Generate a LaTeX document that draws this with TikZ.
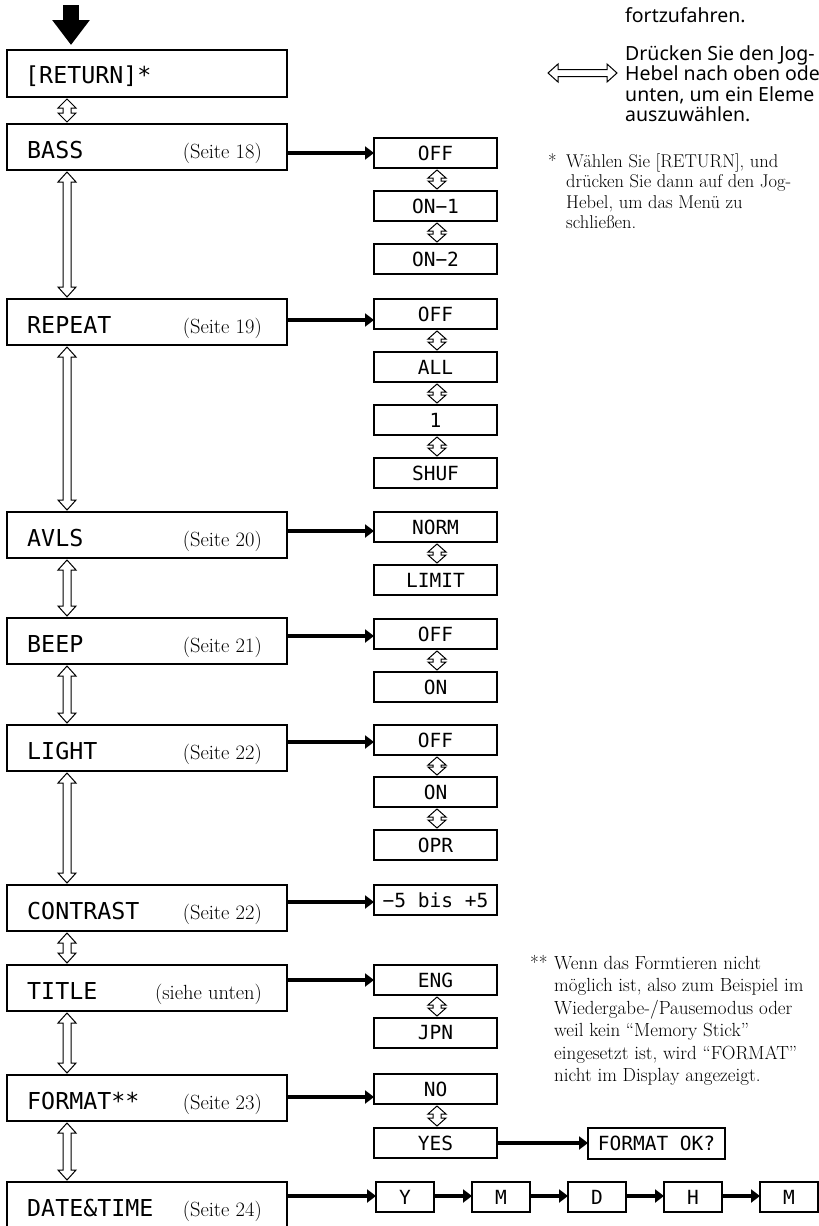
\documentclass[tikz,border=0pt]{standalone}
\usepackage{fontspec}
\newfontfamily\lcdfont{DejaVu Sans Mono}
\newfontfamily\notosans{Noto Sans}
\usetikzlibrary{arrows.meta,calc}

\tikzset{
  mbox/.style={draw, line width=1.2pt, minimum width=280pt, minimum height=46pt, inner sep=0pt, outer sep=0pt},
  obox/.style={draw, line width=1.2pt, minimum width=123pt, minimum height=30pt, inner sep=0pt, outer sep=0pt,
               font=\lcdfont\fontsize{19.5}{20}\selectfont},
  mlabel/.style={inner sep=0pt, anchor=base west, font=\lcdfont\fontsize{23.3}{24}\selectfont},
  plabel/.style={inner sep=0pt, anchor=base east, font=\fontsize{20.5}{22}\selectfont},
  harrow/.style={line width=4.5pt, -{Triangle[length=9pt,width=13pt]}},
  hollow/.style={draw, line width=1pt, fill=white, line join=miter},
  fnoteA/.style={inner sep=0pt, anchor=base west, font=\fontsize{18.5}{20}\selectfont},
  fnoteB/.style={inner sep=0pt, anchor=base west, font=\fontsize{19}{20}\selectfont},
  sansline/.style={inner sep=0pt, anchor=base west, font=\notosans\fontsize{19.5}{20}\selectfont},
}

% main menu box with label and page reference
\newcommand\mainbox[4]{%
  \node[mbox, anchor=north west] (#1) at (7,#2) {};
  \node[mlabel] (#1-l) at ([xshift=20pt,yshift=-34pt]#1.north west) {#3};
  \node[plabel] (#1-p) at ([xshift=-25pt,yshift=-34pt]#1.north east) {#4};}

% option box
\newcommand\optbox[4]{\node[obox, anchor=north west] (#1) at (#2,#3) {#4};}

% hollow vertical double arrow between two nodes: x, upper, lower, half head width, half shaft width, head length
\newcommand\dblv[6]{%
  \draw[hollow] let \p1=(#2.south), \p2=(#3.north) in
    (#1,\y1-2pt) -- (#1+#4,\y1-2pt-#6) -- (#1+#5,\y1-2pt-#6) -- (#1+#5,\y2+2pt+#6)
    -- (#1+#4,\y2+2pt+#6) -- (#1,\y2+2pt) -- (#1-#4,\y2+2pt+#6) -- (#1-#5,\y2+2pt+#6)
    -- (#1-#5,\y1-2pt-#6) -- (#1-#4,\y1-2pt-#6) -- cycle;}

\begin{document}
\begin{tikzpicture}[x=1pt,y=-1pt]
\useasboundingbox (0,0) rectangle (819,1226);

% ---------- main column ----------
\node[mbox, anchor=north west, minimum height=47pt] (ret) at (7,50) {};
\node[mlabel] (ret-l) at ([xshift=18pt,yshift=-33pt]ret.north west) {[RETURN]*};

\mainbox{bass}{124}{BASS}{(Seite 18)}
\mainbox{rep}{299}{REPEAT}{(Seite 19)}
\mainbox{avls}{512}{AVLS}{(Seite 20)}
\mainbox{beep}{618}{BEEP}{(Seite 21)}
\mainbox{light}{725}{LIGHT}{(Seite 22)}
\mainbox{contr}{885}{CONTRAST}{(Seite 22)}
\mainbox{title}{965}{TITLE}{(siehe unten)}
\mainbox{fmt}{1075}{FORMAT**}{(Seite 23)}
\mainbox{date}{1182}{DATE\&TIME}{(Seite 24)}

% big entry arrow
\coordinate (entry) at (71,5);
\draw[line width=16pt, -{Triangle[length=25pt,width=36pt]}] (entry) -- ([yshift=5pt]ret.north -| entry);

% double arrows of the main column
\dblv{67pt}{ret}{bass}{9pt}{4pt}{9pt}
\dblv{67pt}{bass}{rep}{9pt}{4pt}{10pt}
\dblv{67pt}{rep}{avls}{9pt}{4pt}{10pt}
\dblv{67pt}{avls}{beep}{9pt}{4pt}{10pt}
\dblv{67pt}{beep}{light}{9pt}{4pt}{10pt}
\dblv{67pt}{light}{contr}{9pt}{4pt}{10pt}
\dblv{67pt}{contr}{title}{9pt}{4pt}{10pt}
\dblv{67pt}{title}{fmt}{9pt}{4pt}{10pt}
\dblv{67pt}{fmt}{date}{9pt}{4pt}{10pt}

% ---------- option boxes ----------
\optbox{bOFF}{374}{138}{OFF}
\optbox{bON1}{374}{191}{ON−1}
\optbox{bON2}{374}{244}{ON−2}

\optbox{rOFF}{374}{299}{OFF}
\optbox{rALL}{374}{352}{ALL}
\optbox{rONE}{374}{405}{1}
\optbox{rSHUF}{374}{458}{SHUF}

\optbox{aNORM}{374}{512}{NORM}
\optbox{aLIMIT}{374}{565}{LIMIT}

\optbox{eOFF}{374}{619}{OFF}
\optbox{eON}{374}{672}{ON}

\optbox{lOFF}{374}{725}{OFF}
\optbox{lON}{374}{777}{ON}
\optbox{lOPR}{374}{830}{OPR}

\optbox{cRANGE}{374}{885}{−5 bis +5}

\optbox{tENG}{374}{965}{ENG}
\optbox{tJPN}{374}{1018}{JPN}

\optbox{fNO}{374}{1074}{NO}
\optbox{fYES}{374}{1128}{YES}
\node[obox, anchor=north west, minimum width=137pt, minimum height=31pt] (fOK) at (588,1128) {FORMAT OK?};

\node[obox, anchor=north west, minimum width=58pt] (dY) at (376,1182) {Y};
\node[obox, anchor=north west, minimum width=58pt] (dMo) at (472,1182) {M};
\node[obox, anchor=north west, minimum width=58pt] (dD) at (568,1182) {D};
\node[obox, anchor=north west, minimum width=58pt] (dH) at (664,1182) {H};
\node[obox, anchor=north west, minimum width=58pt] (dMi) at (760,1182) {M};

% small double arrows between options
\dblv{437pt}{bOFF}{bON1}{9pt}{4pt}{8pt}
\dblv{437pt}{bON1}{bON2}{9pt}{4pt}{8pt}
\dblv{437pt}{rOFF}{rALL}{9pt}{4pt}{8pt}
\dblv{437pt}{rALL}{rONE}{9pt}{4pt}{8pt}
\dblv{437pt}{rONE}{rSHUF}{9pt}{4pt}{8pt}
\dblv{437pt}{aNORM}{aLIMIT}{9pt}{4pt}{8pt}
\dblv{437pt}{eOFF}{eON}{9pt}{4pt}{8pt}
\dblv{437pt}{lOFF}{lON}{9pt}{4pt}{8pt}
\dblv{437pt}{lON}{lOPR}{9pt}{4pt}{8pt}
\dblv{437pt}{tENG}{tJPN}{9pt}{4pt}{8pt}
\dblv{437pt}{fNO}{fYES}{9pt}{4pt}{8pt}

% ---------- thick arrows ----------
\draw[harrow] (bass.east |- 0,153) -- (bOFF.west |- 0,153);
\draw[harrow] (rep.east |- 0,320) -- (rOFF.west |- 0,320);
\draw[harrow] (avls.east |- 0,531) -- (aNORM.west |- 0,531);
\draw[harrow] (beep.east |- 0,636) -- (eOFF.west |- 0,636);
\draw[harrow] (light.east |- 0,742) -- (lOFF.west |- 0,742);
\draw[harrow] (contr.east |- 0,902) -- (cRANGE.west |- 0,902);
\draw[harrow] (title.east |- 0,980) -- (tENG.west |- 0,980);
\draw[harrow] (fmt.east |- 0,1097) -- (fNO.west |- 0,1097);
\draw[harrow] (fYES.east |- 0,1143) -- (fOK.west |- 0,1143);
\draw[harrow] (date.east |- 0,1196) -- (dY.west |- 0,1196);
\draw[harrow] (dY.east |- 0,1196) -- (dMo.west |- 0,1196);
\draw[harrow] (dMo.east |- 0,1196) -- (dD.west |- 0,1196);
\draw[harrow] (dD.east |- 0,1196) -- (dH.west |- 0,1196);
\draw[harrow] (dH.east |- 0,1196) -- (dMi.west |- 0,1196);

% ---------- legend (top right) ----------
\node[sansline] (s0) at (625,22) {fortzufahren.};
\node[sansline] (s1) at (625,60) {Drücken Sie den Jog-};
\node[sansline] (s2) at (625,80.5) {Hebel nach oben ode};
\node[sansline] (s3) at (625,101) {unten, um ein Eleme};
\node[sansline] (s4) at (625,121.5) {auszuwählen.};
\draw[hollow] (548,73) -- (558,64) -- (558,69.5) -- (607,69.5) -- (607,64) -- (617,73)
  -- (607,82) -- (607,76.5) -- (558,76.5) -- (558,82) -- cycle;

% ---------- footnote * ----------
\node[fnoteA] (n0) at (548,167) {*};
\node[fnoteA] (n1) at (566,167) {Wählen Sie [RETURN], und};
\node[fnoteA] (n2) at (566,187.5) {drücken Sie dann auf den Jog-};
\node[fnoteA] (n3) at (566,208) {Hebel, um das Menü zu};
\node[fnoteA] (n4) at (566,228.5) {schließen.};

% ---------- footnote ** ----------
\node[fnoteB] (m0) at (530,969) {**};
\node[fnoteB] (m1) at (554,969) {Wenn das Formtieren nicht};
\node[fnoteB] (m2) at (554,991.5) {möglich ist, also zum Beispiel im};
\node[fnoteB] (m3) at (554,1014) {Wiedergabe-/Pausemodus oder};
\node[fnoteB] (m4) at (554,1036.5) {weil kein “Memory Stick”};
\node[fnoteB] (m5) at (554,1059) {eingesetzt ist, wird “FORMAT”};
\node[fnoteB] (m6) at (554,1081.5) {nicht im Display angezeigt.};
\end{tikzpicture}
\end{document}
